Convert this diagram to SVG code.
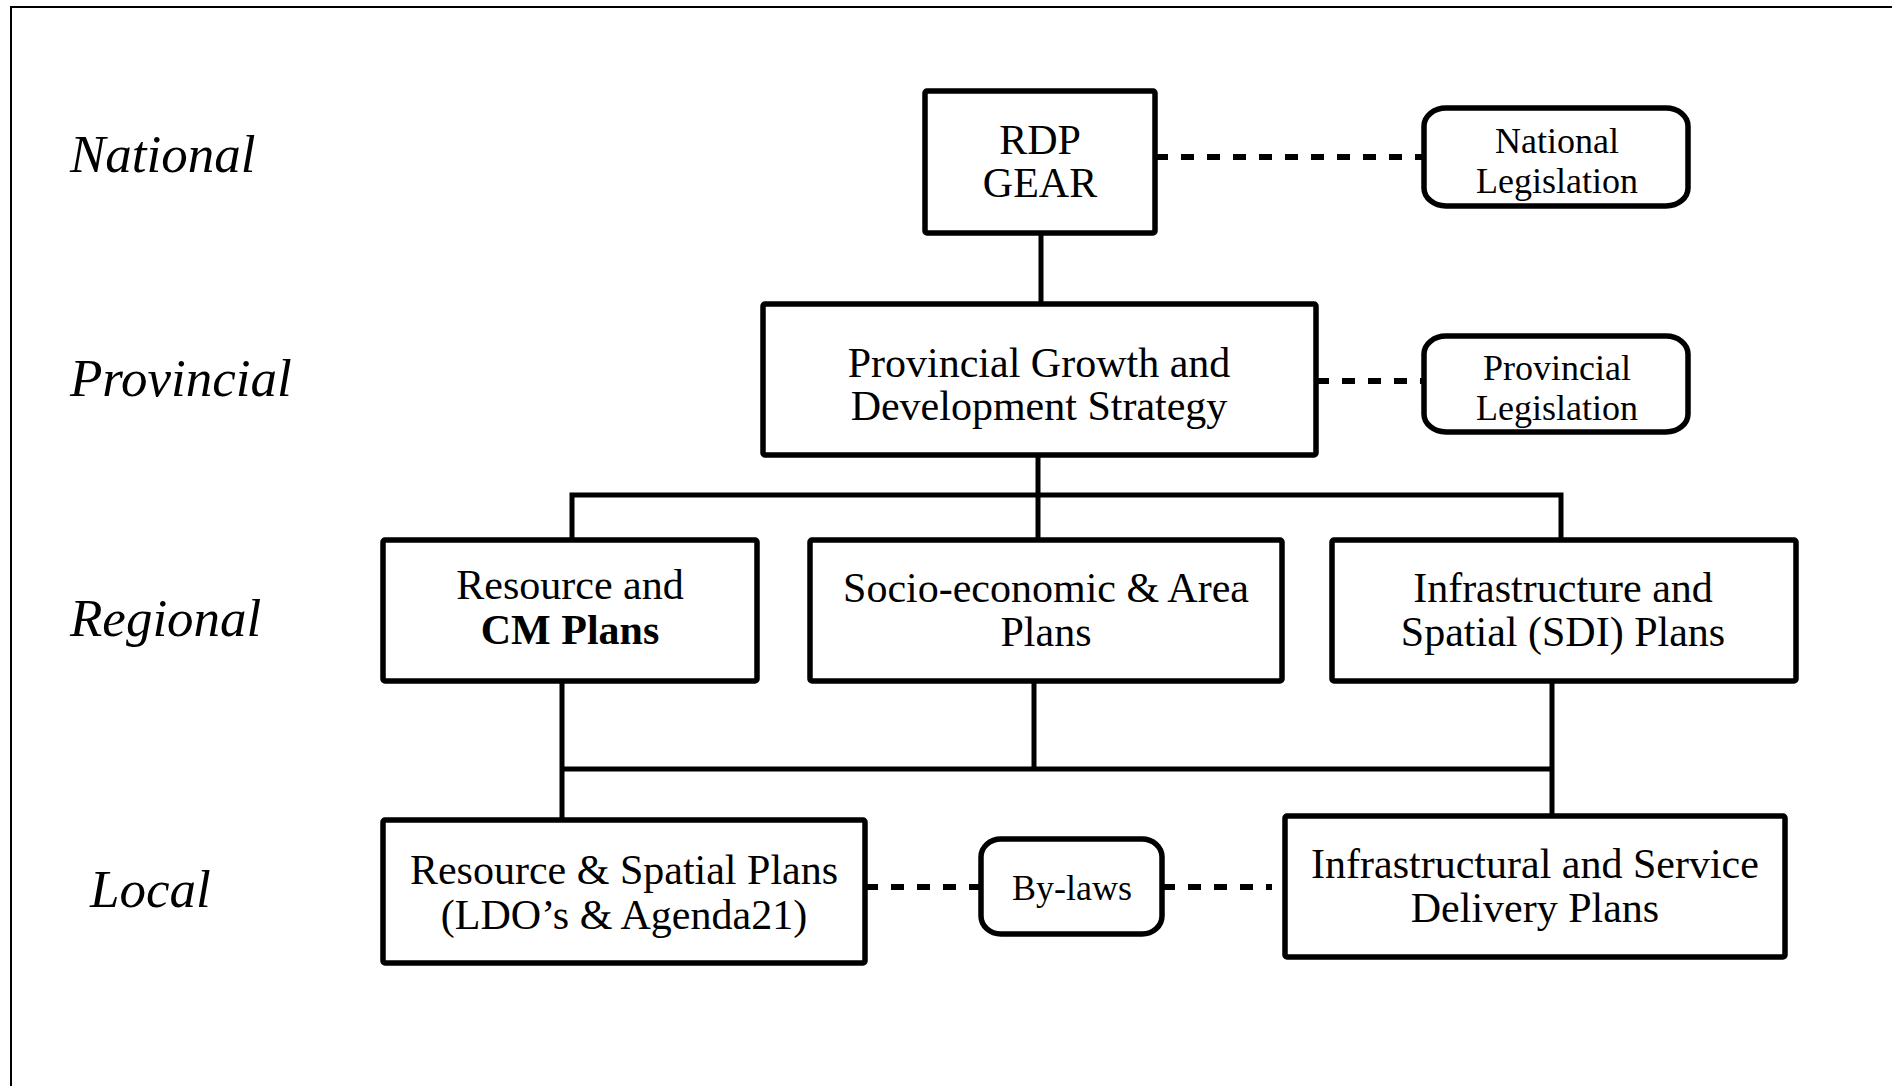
<svg xmlns="http://www.w3.org/2000/svg" width="1892" height="1086" viewBox="0 0 1892 1086">
<style>
.bg{fill:#fff}
.box{fill:#fff;stroke:#000;stroke-width:5.5}
.rbox{fill:#fff;stroke:#000;stroke-width:5.5}
.ln{fill:none;stroke:#000;stroke-width:5}
.dash{fill:none;stroke:#000;stroke-width:6;stroke-dasharray:13 13}
.frame{fill:none;stroke:#000;stroke-width:2}
text{font-family:"Liberation Serif","Times New Roman",serif;fill:#000}
.t{font-size:42px;text-anchor:middle}
.s{font-size:36px;text-anchor:middle}
.lvl{font-size:53px;font-style:italic}
.b{font-weight:bold}
</style>
<rect class="bg" x="0" y="0" width="1892" height="1086"/>
<path class="frame" d="M11,1086 V7 H1892"/>
<g id="levels">
<text class="lvl" x="70" y="172">National</text>
<text class="lvl" x="70" y="396">Provincial</text>
<text class="lvl" x="70" y="636">Regional</text>
<text class="lvl" x="90" y="907">Local</text>
</g>
<g id="connectors">
<path class="ln" d="M1041,233 V304"/>
<path class="ln" d="M1038,455 V540"/>
<path class="ln" d="M572,540 V495 H1561 V540"/>
<path class="ln" d="M562,681 V820"/>
<path class="ln" d="M1034,681 V769"/>
<path class="ln" d="M1552,681 V816"/>
<path class="ln" d="M562,769 H1552"/>
<path class="dash" d="M1155,157 H1424"/>
<path class="dash" d="M1316,381 H1424"/>
<path class="dash" d="M865,887 H980"/>
<path class="dash" d="M1162,887 H1272"/>
</g>
<g id="rdp">
<rect class="box" x="925" y="91" width="230" height="142" rx="2"/>
<text class="t" x="1040" y="154">RDP</text>
<text class="t" x="1040" y="197">GEAR</text>
</g>
<g id="natleg">
<rect class="rbox" x="1424" y="108" width="264" height="98" rx="22" ry="18"/>
<text class="s" x="1557" y="153">National</text>
<text class="s" x="1557" y="193">Legislation</text>
</g>
<g id="pgds">
<rect class="box" x="763" y="304" width="553" height="151" rx="2"/>
<text class="t" x="1039" y="377">Provincial Growth and</text>
<text class="t" x="1039" y="420">Development Strategy</text>
</g>
<g id="provleg">
<rect class="rbox" x="1424" y="336" width="264" height="96" rx="22" ry="18"/>
<text class="s" x="1557" y="380">Provincial</text>
<text class="s" x="1557" y="420">Legislation</text>
</g>
<g id="resource-cm">
<rect class="box" x="383" y="540" width="374" height="141" rx="2"/>
<text class="t" x="570" y="599">Resource and</text>
<text class="t b" x="570" y="644">CM Plans</text>
</g>
<g id="socio">
<rect class="box" x="810" y="540" width="472" height="141" rx="2"/>
<text class="t" x="1046" y="602">Socio-economic &amp; Area</text>
<text class="t" x="1046" y="646">Plans</text>
</g>
<g id="infra-sdi">
<rect class="box" x="1332" y="540" width="464" height="141" rx="2"/>
<text class="t" x="1563" y="602">Infrastructure and</text>
<text class="t" x="1563" y="646">Spatial (SDI) Plans</text>
</g>
<g id="resource-spatial">
<rect class="box" x="383" y="820" width="482" height="143" rx="2"/>
<text class="t" x="624" y="884">Resource &amp; Spatial Plans</text>
<text class="t" x="624" y="929">(LDO’s &amp; Agenda21)</text>
</g>
<g id="bylaws">
<rect class="rbox" x="981" y="839" width="181" height="95" rx="20" ry="18"/>
<text class="s" x="1072" y="900">By-laws</text>
</g>
<g id="infra-service">
<rect class="box" x="1285" y="816" width="500" height="141" rx="2"/>
<text class="t" x="1535" y="878">Infrastructural and Service</text>
<text class="t" x="1535" y="922">Delivery Plans</text>
</g>
</svg>
